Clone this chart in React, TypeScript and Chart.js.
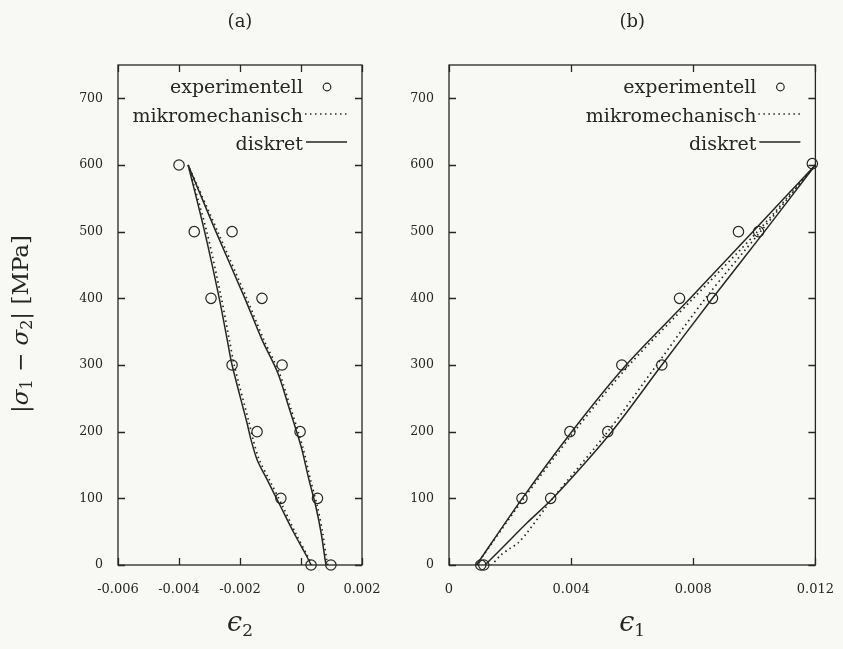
import React, { useEffect, useRef } from "react";
import { Chart, registerables } from "chart.js";

Chart.register(...registerables);

// ---------- data ----------
const stressTicks = [0, 100, 200, 300, 400, 500, 600, 700];
const stressTickLabels = ["0", "100", "200", "300", "400", "500", "600", "700"];
const strainTicksA = [-0.006, -0.004, -0.002, 0, 0.002];
const strainTickLabelsA = ["-0.006", "-0.004", "-0.002", "0", "0.002"];
const strainTicksB = [0, 0.004, 0.008, 0.012];
const strainTickLabelsB = ["0", "0.004", "0.008", "0.012"];

const legendLabels = ["experimentell", "mikromechanisch", "diskret"];
const panelTitles = ["(a)", "(b)"];
const xTitleSubs = ["2", "1"];

// Panel (a): eps_2 vs |sigma1 - sigma2|
const expA_strain = [-0.004, -0.0035, -0.00226, -0.00295, -0.00128, -0.00226, -0.00062, -0.00144, -0.00003, -0.00066, 0.00054, 0.00033, 0.00098];
const expA_stress = [600, 500, 500, 400, 400, 300, 300, 200, 200, 100, 100, 0, 0];

// right branch, bottom -> top
const diskA1_strain = [0.00082, 0.00079, 0.00066, 0.00049, 0.00026, 0.00003, -0.00013, -0.0004, -0.00076, -0.00128, -0.00184, -0.00279, -0.0037];
const diskA1_stress = [0, 8, 48, 87, 128, 173, 198, 237, 288, 338, 400, 500, 600];
// left branch, top -> bottom
const diskA2_strain = [-0.0037, -0.00316, -0.00268, -0.00242, -0.00226, -0.00177, -0.00164, -0.00144, -0.00111, -0.00066, -0.00023, 0.0002, 0.00033];
const diskA2_stress = [600, 500, 400, 338, 300, 213, 188, 158, 128, 87, 48, 12, 0];

const mikroA1_strain = [0.00088, 0.00084, 0.00071, 0.00054, 0.00031, 0.00008, -0.00008, -0.00035, -0.00071, -0.00122, -0.00178, -0.00273, -0.0037];
const mikroA1_stress = [0, 8, 48, 87, 128, 173, 198, 237, 288, 338, 400, 500, 600];
const mikroA2_strain = [-0.0037, -0.00309, -0.00261, -0.00235, -0.00219, -0.0017, -0.00157, -0.00137, -0.00104, -0.00059, -0.00018, 0.00023, 0.00035];
const mikroA2_stress = [600, 500, 400, 338, 300, 213, 188, 158, 128, 87, 48, 12, 0];

// Panel (b): eps_1 vs |sigma1 - sigma2|
const expB_strain = [0.0119, 0.00948, 0.01014, 0.00755, 0.00863, 0.00566, 0.00697, 0.00396, 0.0052, 0.00239, 0.00333, 0.00104, 0.00114];
const expB_stress = [602, 500, 500, 400, 400, 300, 300, 200, 200, 100, 100, 0, 0];

// upper branch, bottom -> top
const diskB1_strain = [0.0009, 0.0024, 0.00402, 0.0058, 0.0079, 0.00995, 0.012];
const diskB1_stress = [0, 100, 200, 300, 400, 500, 600];
// lower branch, top -> bottom
const diskB2_strain = [0.012, 0.01033, 0.00863, 0.00697, 0.00533, 0.0034, 0.00255, 0.00177, 0.00118];
const diskB2_stress = [600, 500, 400, 300, 200, 100, 63, 27, 0];

const mikroB1_strain = [0.0009, 0.00245, 0.0041, 0.0059, 0.008, 0.0101, 0.012];
const mikroB1_stress = [0, 100, 200, 300, 400, 500, 600];
const mikroB2_strain = [0.012, 0.0102, 0.0084, 0.0068, 0.0052, 0.0034, 0.00255, 0.00226, 0.002, 0.0017, 0.0014];
const mikroB2_stress = [600, 500, 400, 300, 200, 100, 48, 33, 25, 15, 0];

// ---------- styling ----------
const INK = "#262626";
const BG = "#f8f8f4";
const SERIF = "'DejaVu Serif', serif";

type Pt = { x: number; y: number };
const toPts = (xs: number[], ys: number[]): Pt[] => xs.map((x, i) => ({ x, y: ys[i] }));

type Seg = { t: string; italic?: boolean; size: number; dy?: number };

function drawRich(ctx: CanvasRenderingContext2D, segs: Seg[], cx: number, baseY: number) {
  const widths = segs.map((s) => {
    ctx.font = `${s.italic ? "italic " : ""}${s.size}px ${SERIF}`;
    return ctx.measureText(s.t).width;
  });
  const total = widths.reduce((a, b) => a + b, 0);
  let x = cx - total / 2;
  ctx.textAlign = "left";
  ctx.textBaseline = "alphabetic";
  segs.forEach((s, i) => {
    ctx.font = `${s.italic ? "italic " : ""}${s.size}px ${SERIF}`;
    ctx.fillText(s.t, x, baseY + (s.dy || 0));
    x += widths[i];
  });
}

function makeDecorPlugin(panel: number, xTicks: number[]) {
  return {
    id: "decor" + panel,
    afterDraw(chart: any) {
      const ctx: CanvasRenderingContext2D = chart.ctx;
      const a = chart.chartArea;
      const xs = chart.scales.x;
      const ys = chart.scales.y;
      ctx.save();
      ctx.strokeStyle = INK;
      ctx.fillStyle = INK;
      ctx.lineWidth = 1.3;
      // frame
      ctx.strokeRect(a.left, a.top, a.right - a.left, a.bottom - a.top);
      // inward ticks on all sides
      const tl = 7;
      ctx.beginPath();
      xTicks.forEach((v) => {
        const px = Math.round(xs.getPixelForValue(v)) + 0.5;
        ctx.moveTo(px, a.bottom);
        ctx.lineTo(px, a.bottom - tl);
        ctx.moveTo(px, a.top);
        ctx.lineTo(px, a.top + tl);
      });
      stressTicks.forEach((v) => {
        const py = Math.round(ys.getPixelForValue(v)) + 0.5;
        ctx.moveTo(a.left, py);
        ctx.lineTo(a.left + tl, py);
        ctx.moveTo(a.right, py);
        ctx.lineTo(a.right - tl, py);
      });
      ctx.stroke();

      // legend (text right-aligned, symbol to the right)
      const textRight = a.right - 59;
      const baselines = [93, 122, 150];
      ctx.font = `19px ${SERIF}`;
      ctx.textAlign = "right";
      ctx.textBaseline = "alphabetic";
      legendLabels.forEach((lab, i) => ctx.fillText(lab, textRight, baselines[i]));
      // circle
      ctx.lineWidth = 1.2;
      ctx.beginPath();
      ctx.arc(a.right - 35, 87, 3.8, 0, Math.PI * 2);
      ctx.stroke();
      // dotted
      ctx.lineWidth = 1.7;
      ctx.setLineDash([1.5, 3.5]);
      ctx.beginPath();
      ctx.moveTo(a.right - 57, 114);
      ctx.lineTo(a.right - 13, 114);
      ctx.stroke();
      ctx.setLineDash([]);
      // solid
      ctx.lineWidth = 1.5;
      ctx.beginPath();
      ctx.moveTo(a.right - 56, 142);
      ctx.lineTo(a.right - 15, 142);
      ctx.stroke();

      // panel title
      const cx = (a.left + a.right) / 2;
      ctx.font = `18px ${SERIF}`;
      ctx.textAlign = "center";
      ctx.textBaseline = "middle";
      ctx.fillText(panelTitles[panel], cx, 22);

      // x-axis title  (epsilon with subscript)
      drawRich(ctx, [
        { t: "\u03F5", italic: true, size: 27 },
        { t: xTitleSubs[panel], size: 17, dy: 5 },
      ], cx, 631);

      // y-axis title (only left panel)
      if (panel === 0) {
        ctx.save();
        ctx.translate(20, 324);
        ctx.rotate(-Math.PI / 2);
        drawRich(ctx, [
          { t: "|", size: 23 },
          { t: "\u03C3", italic: true, size: 23 },
          { t: "1", size: 16, dy: 4 },
          { t: " \u2212 ", size: 23 },
          { t: "\u03C3", italic: true, size: 23 },
          { t: "2", size: 16, dy: 4 },
          { t: "|", size: 23 },
          { t: " [MPa]", size: 23 },
        ], 0, 8);
        ctx.restore();
      }
      ctx.restore();
    },
  };
}

function lineSet(label: string, data: Pt[], dotted: boolean) {
  return {
    label,
    data,
    showLine: true,
    pointRadius: 0,
    borderColor: INK,
    borderWidth: dotted ? 1.7 : 1.5,
    borderDash: dotted ? [1.5, 3.5] : [],
    tension: 0.3,
  };
}

function buildChart(
  canvas: HTMLCanvasElement,
  panel: number,
  xMin: number,
  xMax: number,
  xTicks: number[],
  xLabels: string[],
  yAxisWidth: number,
  padRight: number,
  exp: Pt[],
  mikro: Pt[][],
  disk: Pt[][]
) {
  return new Chart(canvas, {
    type: "scatter",
    data: {
      datasets: [
        {
          label: legendLabels[0],
          data: exp,
          showLine: false,
          pointStyle: "circle",
          pointRadius: 5.2,
          pointBorderWidth: 1.2,
          pointBackgroundColor: "rgba(0,0,0,0)",
          pointBorderColor: INK,
          clip: false,
        } as any,
        ...mikro.map((d) => lineSet(legendLabels[1], d, true)),
        ...disk.map((d) => lineSet(legendLabels[2], d, false)),
      ],
    },
    options: {
      animation: false,
      responsive: false,
      maintainAspectRatio: false,
      events: [],
      layout: { padding: { left: 0, top: 65, right: padRight, bottom: 0 } },
      plugins: {
        legend: { display: false },
        tooltip: { enabled: false },
        title: { display: false },
      },
      scales: {
        x: {
          type: "linear",
          min: xMin,
          max: xMax,
          grid: { display: false },
          border: { display: false },
          afterBuildTicks: (s: any) => {
            s.ticks = xTicks.map((v) => ({ value: v }));
          },
          afterFit: (s: any) => {
            s.height = 84;
          },
          ticks: {
            color: INK,
            padding: 9,
            maxRotation: 0,
            autoSkip: false,
            font: { family: SERIF, size: 13 },
            callback: (_v: any, i: number) => xLabels[i],
          },
        },
        y: {
          type: "linear",
          min: 0,
          max: 750,
          grid: { display: false },
          border: { display: false },
          afterBuildTicks: (s: any) => {
            s.ticks = stressTicks.map((v) => ({ value: v }));
          },
          afterFit: (s: any) => {
            s.width = yAxisWidth;
          },
          ticks: {
            color: INK,
            padding: 7,
            autoSkip: false,
            font: { family: SERIF, size: 12.5 },
            callback: (_v: any, i: number) => stressTickLabels[i],
          },
        },
      },
    } as any,
    plugins: [makeDecorPlugin(panel, xTicks)],
  });
}

export default function App() {
  const refA = useRef<HTMLCanvasElement>(null);
  const refB = useRef<HTMLCanvasElement>(null);

  useEffect(() => {
    const a = buildChart(
      refA.current!, 0, -0.006, 0.002, strainTicksA, strainTickLabelsA, 118, 38,
      toPts(expA_strain, expA_stress),
      [toPts(mikroA1_strain, mikroA1_stress), toPts(mikroA2_strain, mikroA2_stress)],
      [toPts(diskA1_strain, diskA1_stress), toPts(diskA2_strain, diskA2_stress)]
    );
    const b = buildChart(
      refB.current!, 1, 0, 0.012, strainTicksB, strainTickLabelsB, 49, 25,
      toPts(expB_strain, expB_stress),
      [toPts(mikroB1_strain, mikroB1_stress), toPts(mikroB2_strain, mikroB2_stress)],
      [toPts(diskB1_strain, diskB1_stress), toPts(diskB2_strain, diskB2_stress)]
    );
    return () => {
      a.destroy();
      b.destroy();
    };
  }, []);

  return (
    <div style={{ position: "absolute", left: 0, top: 0, width: 843, height: 649, background: BG, overflow: "hidden" }}>
      <canvas ref={refA} width={400} height={649} style={{ position: "absolute", left: 0, top: 0, width: 400, height: 649 }} />
      <canvas ref={refB} width={443} height={649} style={{ position: "absolute", left: 400, top: 0, width: 443, height: 649 }} />
    </div>
  );
}
